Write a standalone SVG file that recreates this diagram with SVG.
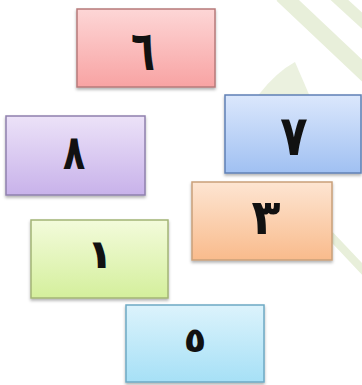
<svg xmlns="http://www.w3.org/2000/svg" width="362" height="385" viewBox="0 0 362 385">
<defs>
<linearGradient id="gPink" x1="0" y1="0" x2="0" y2="1"><stop offset="0" stop-color="#fdd6d6"/><stop offset="1" stop-color="#f8a3a3"/></linearGradient>
<linearGradient id="gPurple" x1="0" y1="0" x2="0" y2="1"><stop offset="0" stop-color="#ece2f8"/><stop offset="1" stop-color="#c8b2ea"/></linearGradient>
<linearGradient id="gBlue" x1="0" y1="0" x2="0" y2="1"><stop offset="0" stop-color="#dbe7fc"/><stop offset="1" stop-color="#a0c0f2"/></linearGradient>
<linearGradient id="gOrange" x1="0" y1="0" x2="0" y2="1"><stop offset="0" stop-color="#fde5d2"/><stop offset="1" stop-color="#f9bb8c"/></linearGradient>
<linearGradient id="gGreen" x1="0" y1="0" x2="0" y2="1"><stop offset="0" stop-color="#f3fbdb"/><stop offset="1" stop-color="#d4ef9c"/></linearGradient>
<linearGradient id="gCyan" x1="0" y1="0" x2="0" y2="1"><stop offset="0" stop-color="#dcf3fc"/><stop offset="1" stop-color="#a6e0f6"/></linearGradient>
<filter id="sh" x="-10%" y="-10%" width="120%" height="130%"><feDropShadow dx="0" dy="2" stdDeviation="1.5" flood-color="#000" flood-opacity="0.3"/></filter>
</defs>
<style>
.box{stroke-width:1.5;filter:url(#sh)}
.num{font-family:"DejaVu Sans","Noto Sans",sans-serif;font-weight:bold;font-size:56px;fill:#111;text-anchor:middle}
.wm{fill:none;stroke:#e8efda;stroke-linecap:butt}
</style>
<g id="watermark">
<path class="wm" d="M282 -5 L370 78" stroke-width="16"/>
<path class="wm" d="M334 -5 L370 28" stroke-width="12"/>
<path d="M226 150 Q258 82 295 62 Q316 110 332 150 Z" fill="#ebf1df"/>
<path class="wm" d="M330 235 L365 272" stroke-width="8"/>
</g>
<g id="node6"><rect class="box" x="77" y="9" width="138" height="78" fill="url(#gPink)" stroke="#b77a7a"/><text class="num" transform="translate(143,70) scale(0.7,1)">٦</text></g>
<g id="node8"><rect class="box" x="6" y="116" width="139" height="79" fill="url(#gPurple)" stroke="#8f80ad"/><text class="num" transform="translate(74,169) scale(0.65,0.86)">٨</text></g>
<g id="node7"><rect class="box" x="225" y="95" width="136" height="78" fill="url(#gBlue)" stroke="#5f80b5"/><text class="num" transform="translate(294,155) scale(0.8,1)">٧</text></g>
<g id="node3"><rect class="box" x="192" y="182" width="140" height="78" fill="url(#gOrange)" stroke="#c9a07a"/><text class="num" transform="translate(266,234) scale(0.85,0.87)">٣</text></g>
<g id="node1"><rect class="box" x="31" y="220" width="137" height="78" fill="url(#gGreen)" stroke="#a3b476"/><text class="num" transform="translate(100,268) scale(0.8,0.72)">١</text></g>
<g id="node5"><rect class="box" x="126" y="305" width="138" height="77" fill="url(#gCyan)" stroke="#6ea9c3"/><text class="num" transform="translate(195,352) scale(0.66,0.62)">٥</text></g>
<g id="connectors"/>
</svg>
